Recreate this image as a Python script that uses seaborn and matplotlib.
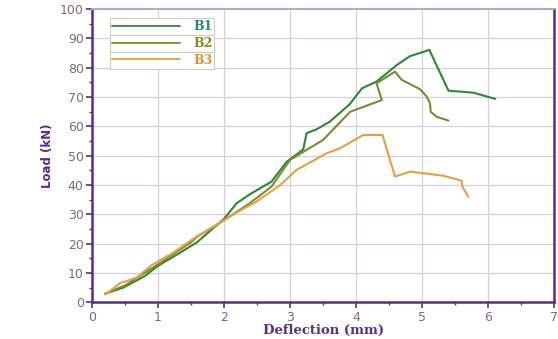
import matplotlib
matplotlib.use("Agg")
import matplotlib.pyplot as plt
from matplotlib.lines import Line2D
from matplotlib.ticker import MultipleLocator
import seaborn as sns
import pandas as pd

# Load-deflection readings for the three beams
b1_defl = [0.2, 0.47, 0.8, 0.98, 1.3, 1.59, 2.0, 2.19, 2.4, 2.72, 2.95, 3.1, 3.2, 3.25, 3.4, 3.6,
           3.9, 4.09, 4.31, 4.62, 4.82, 5.11, 5.4, 5.78, 6.11]
b1_load = [3.0, 5.0, 9.0, 12.2, 16.5, 20.5, 28.5, 33.8, 37.0, 41.2, 48.0, 50.5, 52.2, 57.7, 59.0, 61.6,
           67.5, 73.0, 75.3, 81.0, 84.0, 86.1, 72.2, 71.5, 69.4]

b2_defl = [0.2, 0.5, 1.0, 1.5, 1.6, 2.0, 2.4, 2.72, 3.0, 3.5, 3.91, 4.39, 4.31, 4.59, 4.69, 4.97,
           5.07, 5.12, 5.13, 5.22, 5.4]
b2_load = [3.0, 5.8, 13.0, 20.5, 22.5, 28.0, 34.0, 39.5, 48.6, 55.4, 65.0, 69.0, 74.7, 78.7, 75.9, 72.7,
           70.2, 67.9, 65.0, 63.3, 62.0]

b3_defl = [0.2, 0.42, 0.68, 0.9, 1.2, 1.58, 1.84, 2.1, 2.5, 2.85, 3.1, 3.55, 3.76, 4.11, 4.4, 4.59,
           4.82, 5.32, 5.6, 5.61, 5.7]
b3_load = [2.7, 6.5, 8.5, 12.7, 16.5, 22.4, 25.8, 29.5, 34.5, 40.0, 45.2, 50.8, 52.6, 57.1, 57.1, 42.9,
           44.6, 43.2, 41.5, 39.5, 36.0]

beams = ["B1", "B2", "B3"]
colors = {"B1": "#2a8a35", "B2": "#7d8c2c", "B3": "#e8a040"}
label_colors = {"B1": "#1f8a8a", "B2": "#8a8a1a", "B3": "#e8903a"}

frames = []
for name, xs, ys in [("B1", b1_defl, b1_load), ("B2", b2_defl, b2_load), ("B3", b3_defl, b3_load)]:
    frames.append(pd.DataFrame({"Deflection": xs, "Load": ys, "Beam": name,
                                "order": range(len(xs))}))
df = pd.concat(frames, ignore_index=True)

sns.set_theme(style="white")
purple = "#5a2d86"
light_purple = "#d9cde6"

fig = plt.figure(figsize=(5.58, 3.39), dpi=100)
ax = fig.add_axes([0.165, 0.108, 0.828, 0.865])

sns.lineplot(data=df, x="Deflection", y="Load", hue="Beam", palette=colors,
             sort=False, estimator=None, units="Beam", linewidth=1.5, legend=False, ax=ax)

ax.set_xlim(0, 7)
ax.set_ylim(0, 100)
ax.xaxis.set_major_locator(MultipleLocator(1))
ax.xaxis.set_minor_locator(MultipleLocator(0.5))
ax.yaxis.set_major_locator(MultipleLocator(10))
ax.yaxis.set_minor_locator(MultipleLocator(5))
ax.grid(True, which="major", color=light_purple, linewidth=0.9)

ax.tick_params(axis="both", which="major", direction="out", length=4, width=1.2, pad=2,
               color=purple, labelsize=9, labelcolor="#7a6a8e", bottom=True, left=True)
ax.tick_params(axis="both", which="minor", direction="out", length=2, width=1.0,
               color=purple, bottom=True, left=True)

for side in ["left", "bottom", "right"]:
    ax.spines[side].set_color(purple)
    ax.spines[side].set_linewidth(1.8)
ax.spines["top"].set_color("#b9a5d0")
ax.spines["top"].set_linewidth(1.4)

ax.set_xlabel("Deflection (mm)", family="DejaVu Serif", fontweight="bold",
              fontsize=9.5, color=purple, labelpad=0)
ax.set_ylabel("Load (kN)", family="DejaVu Sans", fontweight="bold",
              fontsize=8.5, color=purple, labelpad=4)

# One boxed legend entry per beam, stacked in the upper left
for i, name in enumerate(beams):
    handle = Line2D([], [], color=colors[name], linewidth=1.3)
    leg = ax.legend([handle], [name], loc="upper left",
                    bbox_to_anchor=(0.025, 0.99 - i * 0.057), handlelength=5.5,
                    borderpad=0.15, handletextpad=1.0, frameon=True, fancybox=False,
                    edgecolor="#cfcfb8", framealpha=1.0,
                    prop={"family": "DejaVu Serif", "weight": "bold", "size": 9})
    leg.get_frame().set_linewidth(0.8)
    for t in leg.get_texts():
        t.set_color(label_colors[name])
    ax.add_artist(leg)

fig.savefig("out.png", dpi=100)
